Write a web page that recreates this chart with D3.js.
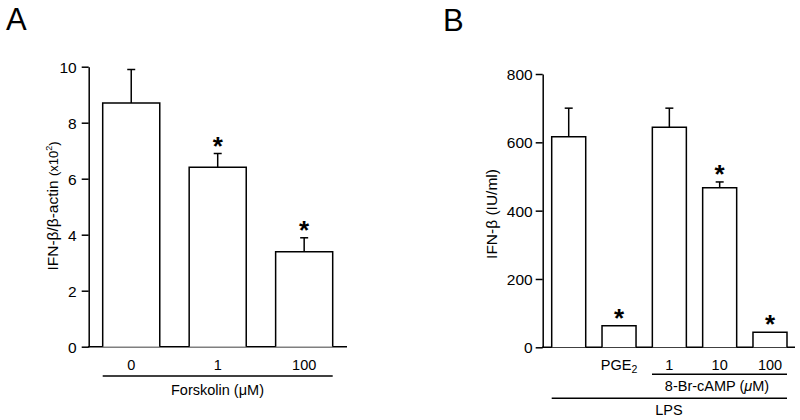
<!DOCTYPE html>
<html><head><meta charset="utf-8">
<script src="https://cdn.jsdelivr.net/npm/d3@7"></script>
<style>
body{margin:0;background:#fff;}
text{font-family:"Liberation Sans",Arial,Helvetica,sans-serif;fill:#000;}
</style></head>
<body><svg id="c" width="800" height="420"></svg>
<script>
// Panel A data
const catsA = ["0", "1", "100"];
const meanA = [8.7, 6.41, 3.39];
const errA = [1.2, 0.49, 0.5];
const sigA = [false, true, true];
const ticksA = [0, 2, 4, 6, 8, 10];

// Panel B data
const catsB = ["LPS", "PGE2", "1", "10", "100"];
const meanB = [616, 63, 644, 467, 44];
const errB = [84, 0, 56, 17, 0];
const sigB = [false, true, false, true, true];
const ticksB = [0, 200, 400, 600, 800];

const svg = d3.select("#c");
const lw = 1.5;
const FF = '"Liberation Sans",Arial,Helvetica,sans-serif';

function panel(o) {
  const g = svg.append("g");
  const y = d3.scaleLinear().domain(o.ydom).range([o.y0, o.y1]);
  const x = d3.scaleBand().domain(o.cats).range(o.xr).paddingInner(o.pin).paddingOuter(0);
  const ax = g.append("g").attr("transform", `translate(${o.axX},0)`)
    .call(d3.axisLeft(y).tickValues(o.ticks).tickSize(7).tickSizeOuter(0).tickPadding(o.tp));
  ax.attr("font-size", null).attr("font-family", null);
  ax.select(".domain").attr("stroke-width", lw);
  ax.selectAll(".tick line").attr("stroke-width", lw);
  ax.selectAll(".tick text").style("font-size", "15.5px").style("font-family", FF).attr("dy", "0.36em");
  g.append("line").attr("x1", o.axX - lw/2).attr("x2", o.baseEnd).attr("y1", y(0)).attr("y2", y(0))
    .attr("stroke", "#000").attr("stroke-width", lw);
  const bw = x.bandwidth();
  o.cats.forEach((c, i) => {
    const x0 = x(c), cx = x0 + bw / 2, top = y(o.mean[i]);
    g.append("path").attr("d", `M${x0},${y(0)}V${top}H${x0 + bw}V${y(0)}`)
      .attr("fill", "#fff").attr("stroke", "#000").attr("stroke-width", lw);
    let et = top;
    if (o.err[i] > 0) {
      et = y(o.mean[i] + o.err[i]);
      g.append("line").attr("x1", cx).attr("x2", cx).attr("y1", top).attr("y2", et)
        .attr("stroke", "#000").attr("stroke-width", lw);
      g.append("line").attr("x1", cx - 4).attr("x2", cx + 4).attr("y1", et).attr("y2", et)
        .attr("stroke", "#000").attr("stroke-width", lw);
    }
    if (o.sig[i]) {
      g.append("text").attr("x", cx).attr("y", et + 1).attr("text-anchor", "middle")
        .style("font-size", "26px").attr("font-weight", "bold").text("*");
    }
  });
  return {g, x, y, bw};
}

// ---------- Panel A ----------
const A = panel({ydom:[0,10], y0:346.7, y1:66.7, cats:catsA, xr:[102.7,332.7], pin:0.34,
  axX:88.7, baseEnd:347, ticks:ticksA, mean:meanA, err:errA, sig:sigA, tp:5});
catsA.forEach(c => {
  A.g.append("text").attr("x", A.x(c) + A.bw/2).attr("y", 370).attr("text-anchor","middle")
    .style("font-size", "14.5px").text(c);
});
A.g.append("line").attr("x1", A.x(catsA[0])).attr("x2", A.x(catsA[2]) + A.bw)
  .attr("y1", 376).attr("y2", 376).attr("stroke","#000").attr("stroke-width", lw);
A.g.append("text").attr("x", 217.5).attr("y", 395).attr("text-anchor","middle").style("font-size","14.5px")
  .text("Forskolin (μM)");
const ylA = A.g.append("text").attr("transform","translate(58,206) rotate(-90)")
  .attr("text-anchor","middle").style("font-size","15.5px");
ylA.append("tspan").text("IFN-β/β-actin ");
ylA.append("tspan").style("font-size","13px").text("(x10");
ylA.append("tspan").style("font-size","9px").attr("dy",-6).text("2");
ylA.append("tspan").style("font-size","13px").attr("dy",6).text(")");
svg.append("text").attr("x", 6).attr("y", 30).style("font-size", "31px").text("A");

// ---------- Panel B ----------
const B = panel({ydom:[0,800], y0:347.3, y1:74, cats:catsB, xr:[551.7,787], pin:0.324,
  axX:542.7, baseEnd:795, ticks:ticksB, mean:meanB, err:errB, sig:sigB, tp:3});
catsB.forEach((c, i) => {
  if (i === 0) return;
  const t = B.g.append("text").attr("x", B.x(c) + B.bw/2).attr("y", 370).attr("text-anchor","middle")
    .style("font-size", "14.5px");
  if (c === "PGE2") {
    t.append("tspan").text("PGE");
    t.append("tspan").style("font-size", "10.5px").attr("dy", 3).text("2");
  } else t.text(c);
});
B.g.append("line").attr("x1", 652).attr("x2", B.x(catsB[4]) + B.bw)
  .attr("y1", 374.3).attr("y2", 374.3).attr("stroke","#000").attr("stroke-width", lw);
const bl = B.g.append("text").attr("x", 717).attr("y", 391).attr("text-anchor","middle").style("font-size","14.5px");
bl.append("tspan").text("8-Br-cAMP (");
bl.append("tspan").attr("font-style","italic").text("μ");
bl.append("tspan").text("M)");
B.g.append("line").attr("x1", B.x(catsB[0])).attr("x2", B.x(catsB[4]) + B.bw)
  .attr("y1", 398.3).attr("y2", 398.3).attr("stroke","#000").attr("stroke-width", lw);
B.g.append("text").attr("x", 669).attr("y", 415).attr("text-anchor","middle").style("font-size","14.5px").text("LPS");
B.g.append("text").attr("transform","translate(497,214) rotate(-90)")
  .attr("text-anchor","middle").style("font-size","15.5px").text("IFN-β (IU/ml)");
svg.append("text").attr("x", 443).attr("y", 31).style("font-size", "31px").text("B");
</script></body></html>
